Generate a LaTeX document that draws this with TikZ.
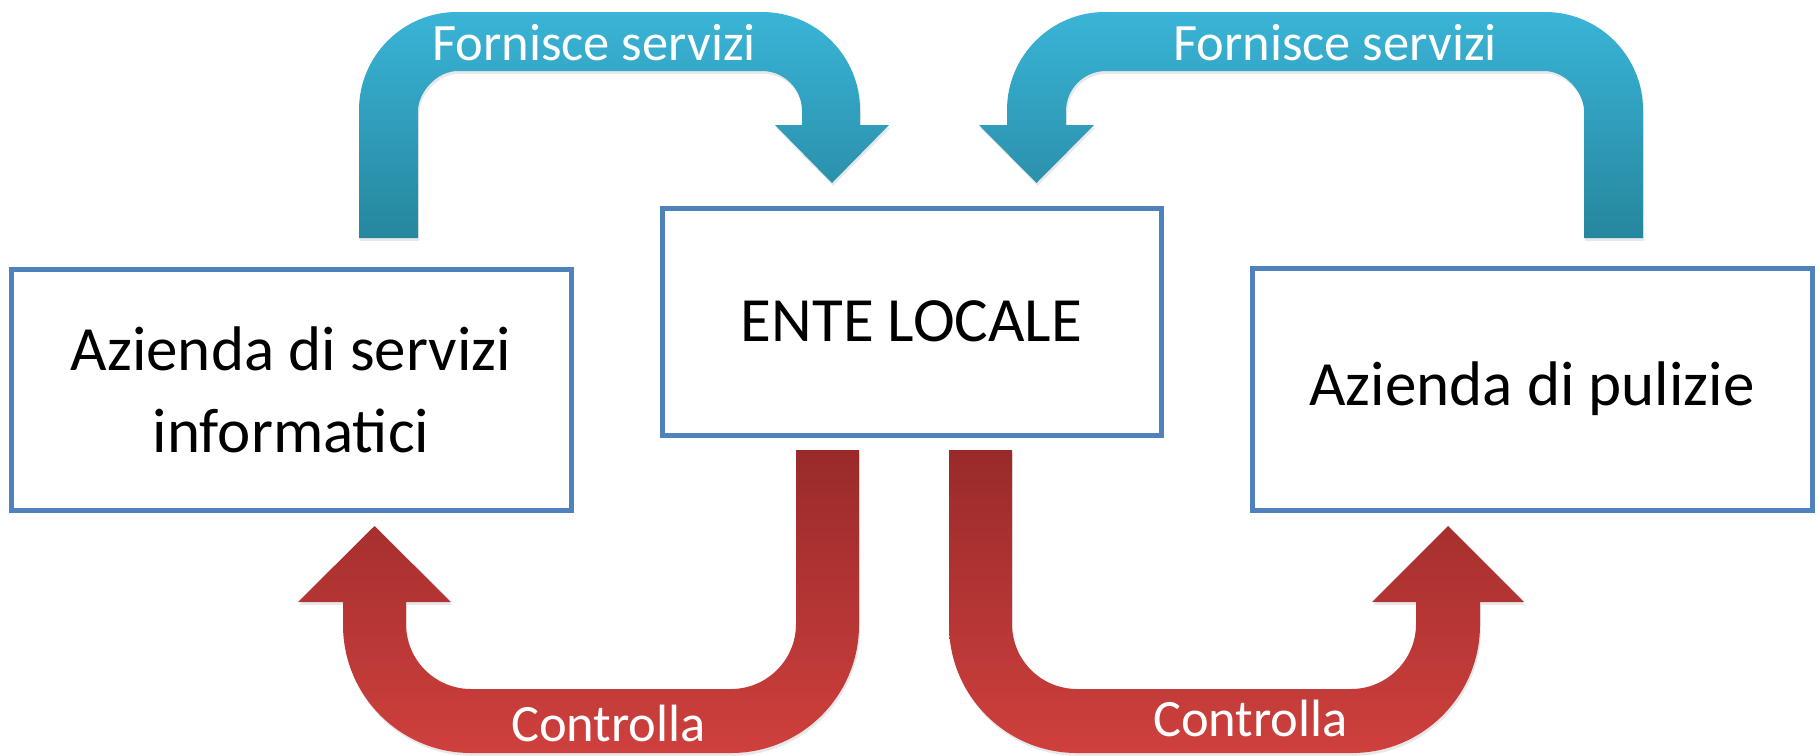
\documentclass[tikz,border=0pt]{standalone}
\usepackage{fontspec}
\setmainfont{Carlito}
\usepackage{tikz}
\usetikzlibrary{shadows}
\definecolor{boxblue}{RGB}{79,129,189}
\definecolor{cyantop}{RGB}{58,180,215}
\definecolor{cyanbot}{RGB}{38,134,158}
\definecolor{redtop}{RGB}{153,42,42}
\definecolor{redbot}{RGB}{206,64,61}
\tikzstyle{box}=[draw=boxblue,line width=2.5pt,fill=white,align=center,inner sep=0pt,font=\fontsize{31.5}{41}\selectfont]
\tikzstyle{bluearrow}=[top color=cyantop,bottom color=cyanbot,drop shadow={shadow xshift=0.6pt,shadow yshift=-1.4pt,opacity=0.18}]
\tikzstyle{redarrow}=[top color=redtop,bottom color=redbot,drop shadow={shadow xshift=0.6pt,shadow yshift=-1.4pt,opacity=0.18}]
\tikzstyle{arrowlabel}=[text=white,anchor=base,inner sep=0pt,font=\fontsize{26.25}{30}\selectfont]

\begin{document}
\begin{tikzpicture}[x=0.5pt,y=-0.5pt]
\useasboundingbox (0,0) rectangle (1820,755);

% the three subjects
\node [box,minimum width=280pt,minimum height=120.5pt] (azinfo) at (291,389.5) {Azienda di servizi\\informatici};
\node [box,minimum width=249.5pt,minimum height=113.5pt] (ente) at (911.5,321.5) {ENTE LOCALE};
\node [box,minimum width=280pt,minimum height=121pt] (azpul) at (1532,389) {Azienda di pulizie};

% upper arrows: services
\path [bluearrow] (359,238) -- (359,110) .. controls (359,55.9) and (402.9,12) .. (457,12)
  -- (762,12) .. controls (816.1,12) and (860,55.9) .. (860,110)
  -- (860,125) -- (889,125) -- (832,183) -- (775,125) -- (802,125)
  -- (802,111) .. controls (802,88.9) and (784.1,71) .. (762,71)
  -- (458,71) .. controls (435.9,71) and (418,93.1) .. (418,111)
  -- (418,238) -- cycle;
\path [bluearrow] (1643,238) -- (1643,110) .. controls (1643,55.9) and (1599.1,12) .. (1545,12)
  -- (1105,12) .. controls (1050.9,12) and (1007,55.9) .. (1007,110)
  -- (1007,125) -- (979,125) -- (1036.5,183) -- (1094,125) -- (1066,125)
  -- (1066,111) .. controls (1066,88.9) and (1083.9,71) .. (1106,71)
  -- (1544,71) .. controls (1566.1,71) and (1584,93.1) .. (1584,111)
  -- (1584,238) -- cycle;

% lower arrows: control
\path [redarrow] (796,450) -- (859,450) -- (859,625) .. controls (859,695.7) and (801.7,753) .. (731,753)
  -- (471,753) .. controls (400.3,753) and (343,695.7) .. (343,625)
  -- (343,602) -- (298,602) -- (374.5,526) -- (451,602) -- (406,602)
  -- (406,624) .. controls (406,659.9) and (435.1,689) .. (471,689)
  -- (731,689) .. controls (766.9,689) and (796,659.9) .. (796,624) -- cycle;
\path [redarrow] (949,450) -- (1012,450) -- (1012,624) .. controls (1012,659.9) and (1041.1,689) .. (1077,689)
  -- (1351,689) .. controls (1386.9,689) and (1416,659.9) .. (1416,624)
  -- (1416,602) -- (1372,602) -- (1448,526) -- (1524,602) -- (1480,602)
  -- (1480,625) .. controls (1480,695.7) and (1422.7,753) .. (1352,753)
  -- (1077,753) .. controls (1006.3,753) and (949,695.7) .. (949,625) -- cycle;

% labels on the arrows
\node [arrowlabel] (forn1) at (594,61) {Fornisce servizi};
\node [arrowlabel] (forn2) at (1335,61) {Fornisce servizi};
\node [arrowlabel] (contr1) at (608.5,741) {Controlla};
\node [arrowlabel] (contr2) at (1250.5,736) {Controlla};
\end{tikzpicture}
\end{document}
